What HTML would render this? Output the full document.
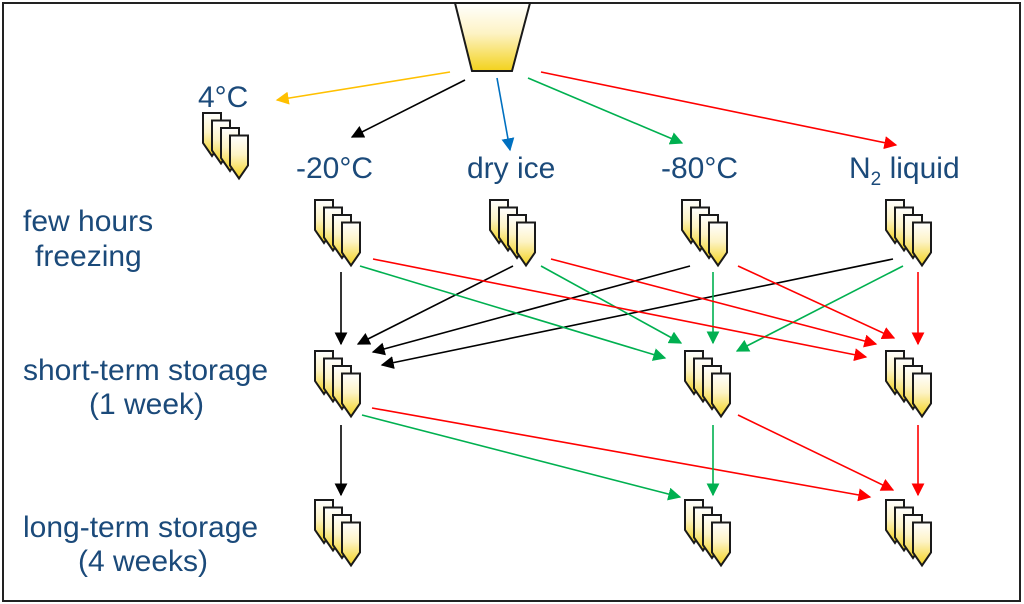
<!DOCTYPE html>
<html><head><meta charset="utf-8"><style>
html,body{margin:0;padding:0;background:#fff;}
svg{display:block;}
text{font-family:"Liberation Sans",sans-serif;fill:#1b4a7a;font-size:30px;}
</style></head><body>
<svg width="1024" height="604" viewBox="0 0 1024 604" xmlns="http://www.w3.org/2000/svg">
<defs>
<linearGradient id="g" x1="0" y1="0" x2="0" y2="1">
<stop offset="0" stop-color="#ffffff"/><stop offset="0.45" stop-color="#fdf3c4"/><stop offset="1" stop-color="#f3d21c"/>
</linearGradient>
<g id="t"><path d="M0,0 H18 V30 L9,43 L0,30 Z" fill="url(#g)" stroke="#1a1a1a" stroke-width="2" stroke-linejoin="miter"/></g>
<g id="grp">
<use href="#t" x="0" y="0"/><use href="#t" x="9" y="7.5"/><use href="#t" x="18" y="15"/><use href="#t" x="27" y="22.5"/>
</g>
<marker id="mK" viewBox="0 0 10 10" refX="9" refY="5" markerWidth="13" markerHeight="13" orient="auto" markerUnits="userSpaceOnUse"><path d="M0,0 L10,5 L0,10 Z" fill="#000"/></marker>
<marker id="mR" viewBox="0 0 10 10" refX="9" refY="5" markerWidth="13" markerHeight="13" orient="auto" markerUnits="userSpaceOnUse"><path d="M0,0 L10,5 L0,10 Z" fill="#ff0000"/></marker>
<marker id="mG" viewBox="0 0 10 10" refX="9" refY="5" markerWidth="13" markerHeight="13" orient="auto" markerUnits="userSpaceOnUse"><path d="M0,0 L10,5 L0,10 Z" fill="#00b050"/></marker>
<marker id="mB" viewBox="0 0 10 10" refX="9" refY="5" markerWidth="13" markerHeight="13" orient="auto" markerUnits="userSpaceOnUse"><path d="M0,0 L10,5 L0,10 Z" fill="#0070c0"/></marker>
<marker id="mY" viewBox="0 0 10 10" refX="9" refY="5" markerWidth="13" markerHeight="13" orient="auto" markerUnits="userSpaceOnUse"><path d="M0,0 L10,5 L0,10 Z" fill="#ffc000"/></marker>
</defs>
<rect x="3" y="3" width="1017" height="598" fill="none" stroke="#222" stroke-width="2"/>
<path d="M455,3 H530 L512,71 H472 Z" fill="url(#g)" stroke="#1a1a1a" stroke-width="2"/>
<use href="#grp" x="203" y="113"/>
<use href="#grp" x="315" y="200"/><use href="#grp" x="490" y="200"/><use href="#grp" x="682" y="200"/><use href="#grp" x="886" y="200"/>
<use href="#grp" x="315" y="351"/><use href="#grp" x="685" y="351"/><use href="#grp" x="886" y="351"/>
<use href="#grp" x="315" y="500"/><use href="#grp" x="685" y="500"/><use href="#grp" x="886" y="500"/>
<text x="198" y="107">4°C</text>
<text x="296" y="178">-20°C</text>
<text x="467" y="178">dry ice</text>
<text x="661" y="178">-80°C</text>
<text x="849" y="178">N<tspan font-size="19" dy="7">2</tspan><tspan dy="-7"> liquid</tspan></text>
<text x="23" y="231">few hours</text>
<text x="35" y="266">freezing</text>
<text x="23" y="380">short-term storage</text>
<text x="89" y="414">(1 week)</text>
<text x="23" y="537">long-term storage</text>
<text x="78" y="571">(4 weeks)</text>
<g stroke-width="1.6" fill="none">
<line x1="450" y1="72" x2="277" y2="100" stroke="#ffc000" marker-end="url(#mY)"/>
<line x1="465" y1="80" x2="352" y2="137" stroke="#000" marker-end="url(#mK)"/>
<line x1="497" y1="78" x2="510" y2="150" stroke="#0070c0" marker-end="url(#mB)"/>
<line x1="528" y1="78" x2="682" y2="143" stroke="#00b050" marker-end="url(#mG)"/>
<line x1="541" y1="72" x2="896" y2="145" stroke="#ff0000" marker-end="url(#mR)"/>
<line x1="341" y1="272" x2="341" y2="344" stroke="#000" marker-end="url(#mK)"/>
<line x1="513" y1="266" x2="358" y2="344" stroke="#000" marker-end="url(#mK)"/>
<line x1="690" y1="266" x2="373" y2="352" stroke="#000" marker-end="url(#mK)"/>
<line x1="893" y1="259" x2="382" y2="365" stroke="#000" marker-end="url(#mK)"/>
<line x1="360" y1="266" x2="665" y2="358" stroke="#00b050" marker-end="url(#mG)"/>
<line x1="541" y1="266" x2="681" y2="343" stroke="#00b050" marker-end="url(#mG)"/>
<line x1="713" y1="272" x2="713" y2="343" stroke="#00b050" marker-end="url(#mG)"/>
<line x1="903" y1="266" x2="737" y2="351" stroke="#00b050" marker-end="url(#mG)"/>
<line x1="373" y1="259" x2="866" y2="357" stroke="#ff0000" marker-end="url(#mR)"/>
<line x1="551" y1="259" x2="876" y2="344" stroke="#ff0000" marker-end="url(#mR)"/>
<line x1="738" y1="266" x2="894" y2="338" stroke="#ff0000" marker-end="url(#mR)"/>
<line x1="918" y1="272" x2="918" y2="344" stroke="#ff0000" marker-end="url(#mR)"/>
<line x1="341" y1="425" x2="341" y2="495" stroke="#000" marker-end="url(#mK)"/>
<line x1="362" y1="415" x2="680" y2="497" stroke="#00b050" marker-end="url(#mG)"/>
<line x1="372" y1="408" x2="870" y2="497" stroke="#ff0000" marker-end="url(#mR)"/>
<line x1="713" y1="425" x2="713" y2="495" stroke="#00b050" marker-end="url(#mG)"/>
<line x1="738" y1="415" x2="893" y2="490" stroke="#ff0000" marker-end="url(#mR)"/>
<line x1="918" y1="425" x2="918" y2="495" stroke="#ff0000" marker-end="url(#mR)"/>
</g>
</svg>
</body></html>
